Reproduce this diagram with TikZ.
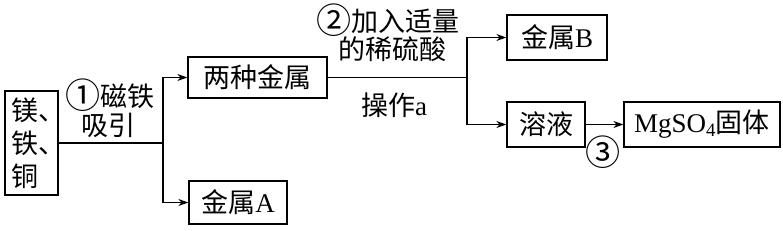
\documentclass[tikz,border=0pt]{standalone}
\usepackage{fontspec}
\setmainfont{Liberation Serif}
\newfontfamily\cjk{Noto Sans CJK SC}
\usetikzlibrary{arrows.meta,positioning}

\newcommand{\cnum}[1]{\raisebox{-2pt}{\scalebox{1.3}{#1}}}
\newcommand{\dun}{\makebox[13pt][l]{、}}

\tikzset{
    box/.style={draw, line width=1.3pt, inner sep=0pt, font=\cjk\fontsize{27}{33}\selectfont},
    flow/.style={line width=1.3pt, -{Stealth[length=10pt,width=7pt]}},
    lbl/.style={inner sep=0pt, font=\cjk\fontsize{27}{30}\selectfont}
}

\begin{document}
\begin{tikzpicture}[x=1pt, y=-1pt]
    \useasboundingbox (0,0) rectangle (783,230);
    % Boxes
    \node[box, minimum width=53pt, minimum height=104pt, align=left] (src) at (31.5,143) {镁\dun\\铁\dun\\铜};
    \node[box, minimum width=139pt, minimum height=41pt] (mix) at (257.5,77.5) {两种金属};
    \node[box, minimum width=98pt, minimum height=43pt] (metA) at (238,202.5) {金属{\rmfamily A}};
    \node[box, minimum width=100pt, minimum height=45pt] (metB) at (557,37.5) {金属{\rmfamily B}};
    \node[box, minimum width=78pt, minimum height=45pt] (sol) at (546,124.5) {溶液};
    \node[box, minimum width=156pt, minimum height=45pt] (prod) at (702,124.5) {{\rmfamily MgSO\textsubscript{4}}固体};
    % Junctions
    \coordinate (j1) at (163,143);
    \coordinate (j2) at (467,77.5);
    % Step 1
    \draw[line width=1.3pt] (src.east) -- (j1);
    \draw[flow] (j1) |- (mix.west);
    \draw[flow] (j1) |- (metA.west);
    \node[lbl] (s1a) at (110,95) {\cnum{①}磁铁};
    \node[lbl] (s1b) at (108,125) {吸引};
    % Step 2
    \draw[line width=1.3pt] (mix.east) -- (j2);
    \draw[flow] (j2) |- (metB.west);
    \draw[flow] (j2) |- (sol.west);
    \node[lbl] (s2a) at (388,20) {\cnum{②}加入适量};
    \node[lbl] (s2b) at (392,49) {的稀硫酸};
    \node[lbl] (opa) at (394,105) {操作{\rmfamily a}};
    % Step 3
    \draw[flow] (sol) -- (prod);
    \node[lbl] (s3) at (603,152) {\cnum{③}};
\end{tikzpicture}
\end{document}
